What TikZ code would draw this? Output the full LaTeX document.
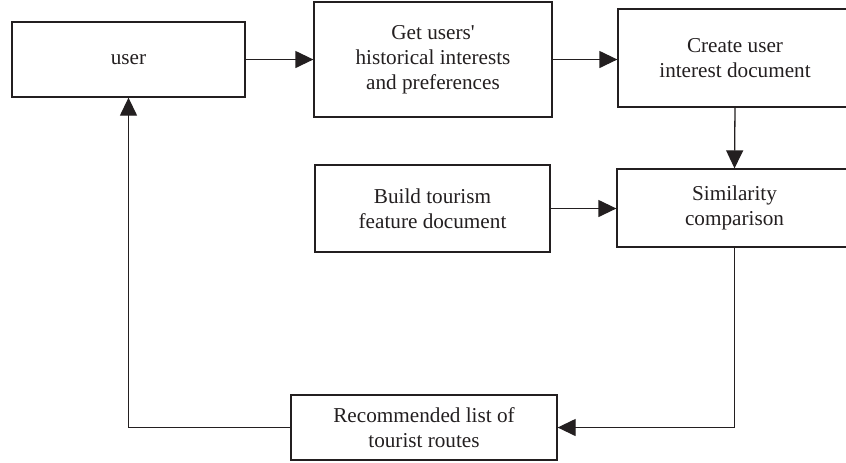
\documentclass[tikz,border=0pt]{standalone}
\usepackage{fontspec}
\setmainfont{Liberation Serif}
\usepackage{tikz}
\usetikzlibrary{arrows.meta,positioning}
\definecolor{linegray}{RGB}{35,31,32}

\tikzset{
  box/.style={draw=linegray, line width=0.65pt, align=center, inner sep=2pt,
    font=\fontsize{10.6}{12.4}\selectfont, text=linegray},
  flow/.style={draw=linegray, line width=0.65pt, -{Triangle[length=9pt,width=8.5pt]}}
}

\begin{document}
\begin{tikzpicture}[x=0.5pt,y=-0.5pt]
\useasboundingbox (0,0) rectangle (846,462);
\fill[white] (0,0) rectangle (846,462);

\node[box, minimum width=116.5pt, minimum height=37.5pt] (user) at (128.5,59.5) {user};
\node[box, minimum width=119pt, minimum height=57.5pt] (get) at (433,59.5) {Get users\textquotesingle\\historical interests\\and preferences};
\node[box, minimum width=117pt, minimum height=49pt] (create) at (735,58) {Create user\\interest document};
\node[box, minimum width=117.5pt, minimum height=43.5pt] (build) at (432.5,208.5) {Build tourism\\feature document};
\node[box, minimum width=117.5pt, minimum height=39pt] (sim) at (734.5,208) {Similarity\\comparison};
\node[box, minimum width=133pt, minimum height=32.5pt] (rec) at (424,427.5) {Recommended list of\\tourist routes};

\draw[flow] (user.east) -- (get.west);
\draw[flow] (get.east) -- (get.east -| create.west);
\draw[flow] (create.south) -- (sim.north);
\draw[flow] (build.east) -- (build.east -| sim.west);
\draw[flow] (sim.south) |- (rec.east);
\draw[flow] (rec.west) -| (user.south);
\end{tikzpicture}
\end{document}
